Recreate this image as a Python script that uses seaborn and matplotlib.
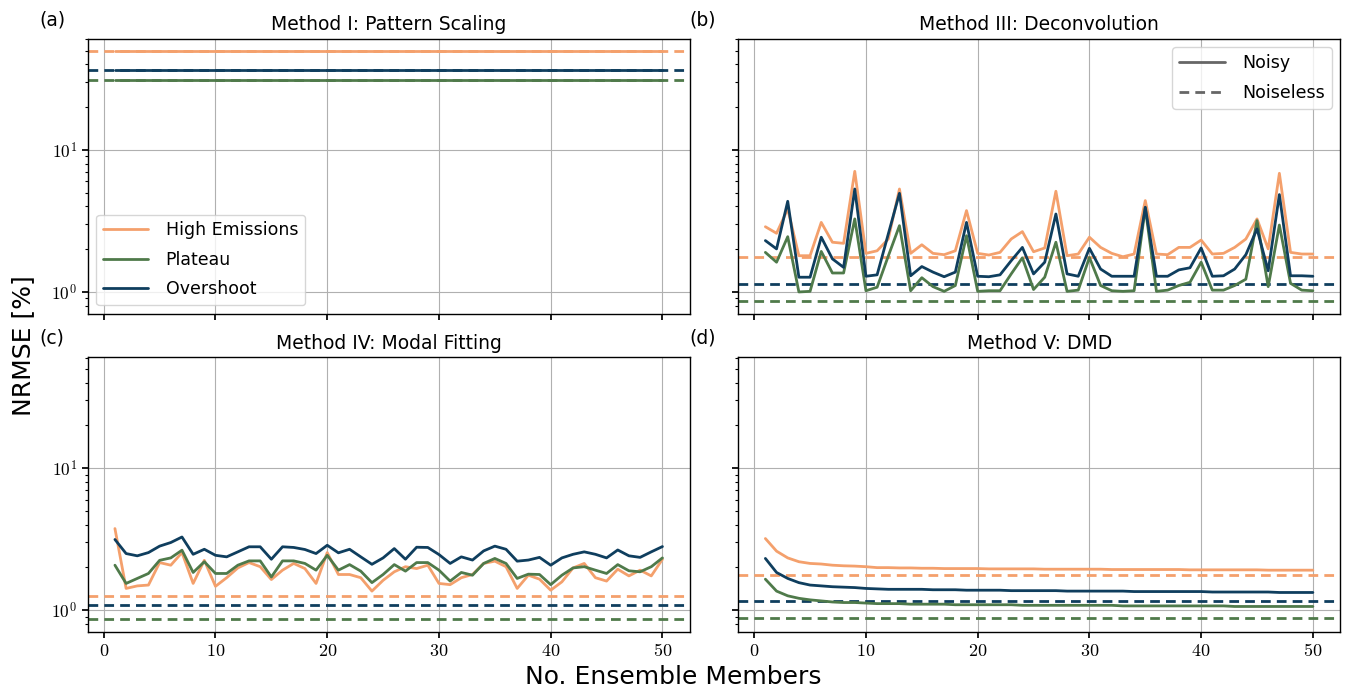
import numpy as np
import matplotlib
matplotlib.use("Agg")
import matplotlib.pyplot as plt
from matplotlib.lines import Line2D
from matplotlib.ticker import FuncFormatter
import seaborn as sns

# Datos (NRMSE en %)
miembros = list(range(1, 51))
escenarios = ["High Emissions", "Plateau", "Overshoot"]
colores = {"High Emissions": "#f4a06c", "Plateau": "#4f7a4a", "Overshoot": "#0f3e5e"}

# Method I: Pattern Scaling (no depende del numero de miembros)
m1_high = [49.9, 49.9, 49.9, 49.9, 49.9, 49.9, 49.9, 49.9, 49.9, 49.9,
           49.9, 49.9, 49.9, 49.9, 49.9, 49.9, 49.9, 49.9, 49.9, 49.9,
           49.9, 49.9, 49.9, 49.9, 49.9, 49.9, 49.9, 49.9, 49.9, 49.9,
           49.9, 49.9, 49.9, 49.9, 49.9, 49.9, 49.9, 49.9, 49.9, 49.9,
           49.9, 49.9, 49.9, 49.9, 49.9, 49.9, 49.9, 49.9, 49.9, 49.9]
m1_plateau = [30.9, 30.9, 30.9, 30.9, 30.9, 30.9, 30.9, 30.9, 30.9, 30.9,
              30.9, 30.9, 30.9, 30.9, 30.9, 30.9, 30.9, 30.9, 30.9, 30.9,
              30.9, 30.9, 30.9, 30.9, 30.9, 30.9, 30.9, 30.9, 30.9, 30.9,
              30.9, 30.9, 30.9, 30.9, 30.9, 30.9, 30.9, 30.9, 30.9, 30.9,
              30.9, 30.9, 30.9, 30.9, 30.9, 30.9, 30.9, 30.9, 30.9, 30.9]
m1_overshoot = [36.8, 36.8, 36.8, 36.8, 36.8, 36.8, 36.8, 36.8, 36.8, 36.8,
                36.8, 36.8, 36.8, 36.8, 36.8, 36.8, 36.8, 36.8, 36.8, 36.8,
                36.8, 36.8, 36.8, 36.8, 36.8, 36.8, 36.8, 36.8, 36.8, 36.8,
                36.8, 36.8, 36.8, 36.8, 36.8, 36.8, 36.8, 36.8, 36.8, 36.8,
                36.8, 36.8, 36.8, 36.8, 36.8, 36.8, 36.8, 36.8, 36.8, 36.8]
m1_noiseless = [49.9, 30.9, 36.8]

# Method III: Deconvolution
m3_high = [2.88, 2.59, 3.84, 1.80, 1.80, 3.09, 2.24, 2.20, 7.07, 1.87,
           1.95, 2.36, 5.31, 1.87, 2.15, 1.87, 1.83, 1.95, 3.74, 1.87,
           1.82, 1.90, 2.36, 2.66, 1.92, 2.04, 5.12, 1.80, 1.85, 2.43,
           2.06, 1.87, 1.77, 1.85, 4.40, 1.85, 1.83, 2.06, 2.06, 2.32,
           1.85, 1.87, 2.06, 2.36, 3.27, 2.01, 6.85, 1.90, 1.85, 1.85]
m3_plateau = [1.90, 1.62, 2.45, 1.00, 1.01, 1.93, 1.36, 1.36, 3.27, 1.02,
              1.08, 1.79, 2.93, 1.02, 1.26, 1.09, 1.01, 1.11, 2.49, 1.01,
              1.02, 1.02, 1.34, 1.74, 1.04, 1.27, 2.24, 1.01, 1.03, 1.75,
              1.11, 1.02, 1.01, 1.02, 3.91, 1.01, 1.03, 1.11, 1.17, 1.62,
              1.03, 1.03, 1.11, 1.23, 3.18, 1.09, 2.96, 1.15, 1.03, 1.02]
m3_overshoot = [2.30, 2.01, 4.35, 1.27, 1.27, 2.43, 1.71, 1.49, 5.31, 1.29,
                1.32, 2.56, 4.95, 1.30, 1.51, 1.38, 1.28, 1.38, 3.09, 1.29,
                1.28, 1.32, 1.66, 2.06, 1.34, 1.62, 3.54, 1.34, 1.29, 2.03,
                1.45, 1.29, 1.29, 1.29, 3.95, 1.29, 1.29, 1.43, 1.48, 2.04,
                1.29, 1.30, 1.45, 1.83, 2.78, 1.41, 4.85, 1.30, 1.30, 1.29]
m3_noiseless = [1.75, 0.865, 1.14]

# Method IV: Modal Fitting
m4_high = [3.75, 1.42, 1.48, 1.50, 2.16, 2.07, 2.54, 1.54, 2.24, 1.47,
           1.69, 1.98, 2.16, 2.02, 1.64, 1.91, 2.13, 1.96, 1.54, 2.54,
           1.78, 1.78, 1.69, 1.36, 1.62, 1.86, 2.02, 1.96, 2.07, 1.54,
           1.51, 1.69, 1.78, 2.13, 2.21, 2.02, 1.42, 1.76, 1.65, 1.38,
           1.58, 1.98, 2.13, 1.69, 1.60, 1.94, 1.74, 1.91, 1.74, 2.28]
m4_plateau = [2.07, 1.54, 1.67, 1.81, 2.24, 2.33, 2.64, 1.84, 2.19, 1.81,
              1.81, 2.07, 2.22, 2.22, 1.71, 2.22, 2.22, 2.13, 1.91, 2.43,
              1.91, 2.09, 1.88, 1.56, 1.78, 2.09, 1.88, 2.16, 2.16, 1.91,
              1.60, 1.84, 1.76, 2.13, 2.31, 2.13, 1.67, 1.79, 1.78, 1.51,
              1.76, 1.98, 2.02, 1.91, 1.81, 2.09, 1.89, 1.86, 2.02, 2.33]
m4_overshoot = [3.14, 2.50, 2.41, 2.54, 2.82, 2.99, 3.27, 2.47, 2.68, 2.43,
                2.37, 2.57, 2.79, 2.79, 2.28, 2.79, 2.76, 2.67, 2.50, 2.86,
                2.53, 2.68, 2.37, 2.10, 2.33, 2.71, 2.28, 2.77, 2.76, 2.46,
                2.13, 2.37, 2.25, 2.61, 2.82, 2.68, 2.21, 2.25, 2.35, 2.07,
                2.33, 2.47, 2.57, 2.47, 2.33, 2.65, 2.41, 2.35, 2.57, 2.80]
m4_noiseless = [1.25, 0.865, 1.08]

# Method V: DMD
m5_high = [3.19, 2.60, 2.33, 2.19, 2.13, 2.11, 2.07, 2.05, 2.04, 2.02,
           1.99, 1.99, 1.98, 1.98, 1.97, 1.97, 1.96, 1.96, 1.96, 1.96,
           1.95, 1.95, 1.95, 1.95, 1.95, 1.94, 1.94, 1.94, 1.94, 1.94,
           1.94, 1.93, 1.93, 1.93, 1.93, 1.93, 1.93, 1.93, 1.92, 1.92,
           1.92, 1.92, 1.92, 1.92, 1.92, 1.91, 1.91, 1.91, 1.91, 1.91]
m5_plateau = [1.65, 1.36, 1.26, 1.21, 1.18, 1.16, 1.14, 1.13, 1.13, 1.12,
              1.11, 1.11, 1.11, 1.10, 1.10, 1.10, 1.10, 1.09, 1.09, 1.09,
              1.09, 1.09, 1.09, 1.08, 1.08, 1.08, 1.08, 1.08, 1.08, 1.08,
              1.08, 1.08, 1.07, 1.07, 1.07, 1.07, 1.07, 1.07, 1.07, 1.07,
              1.07, 1.07, 1.06, 1.06, 1.06, 1.06, 1.06, 1.06, 1.06, 1.06]
m5_overshoot = [2.31, 1.84, 1.67, 1.56, 1.50, 1.48, 1.46, 1.45, 1.44, 1.42,
                1.41, 1.40, 1.40, 1.40, 1.40, 1.39, 1.39, 1.39, 1.38, 1.38,
                1.38, 1.38, 1.37, 1.37, 1.37, 1.37, 1.37, 1.36, 1.36, 1.36,
                1.36, 1.36, 1.36, 1.35, 1.35, 1.35, 1.35, 1.35, 1.35, 1.35,
                1.34, 1.34, 1.34, 1.34, 1.34, 1.34, 1.33, 1.33, 1.33, 1.33]
m5_noiseless = [1.78, 0.88, 1.157]

paneles = [
    ("(a)", "Method I: Pattern Scaling", [m1_high, m1_plateau, m1_overshoot], m1_noiseless),
    ("(b)", "Method III: Deconvolution", [m3_high, m3_plateau, m3_overshoot], m3_noiseless),
    ("(c)", "Method IV: Modal Fitting", [m4_high, m4_plateau, m4_overshoot], m4_noiseless),
    ("(d)", "Method V: DMD", [m5_high, m5_plateau, m5_overshoot], m5_noiseless),
]

sns.set_theme(style="whitegrid", rc={
    "axes.edgecolor": "black",
    "axes.linewidth": 1.0,
    "grid.color": "#b0b0b0",
    "grid.linewidth": 0.8,
    "xtick.bottom": True,
    "ytick.left": True,
    "xtick.color": "black",
    "ytick.color": "black",
    "text.color": "black",
    "axes.labelcolor": "black",
    "xtick.major.size": 4,
    "ytick.major.size": 4,
    "ytick.minor.size": 2.5,
    "ytick.minor.width": 0.8,
})
plt.rcParams["font.family"] = ["DejaVu Sans"]
plt.rcParams["mathtext.fontset"] = "cm"

fig, ejes = plt.subplots(2, 2, figsize=(13.47, 6.92), dpi=100, sharex=True, sharey=True)
fig.subplots_adjust(left=0.065, right=0.995, top=0.944, bottom=0.087, wspace=0.08, hspace=0.157)

for ax, (etiqueta, titulo, series, sin_ruido) in zip(ejes.flat, paneles):
    for nombre, valores, ref in zip(escenarios, series, sin_ruido):
        ax.axhline(ref, color=colores[nombre], ls="--", lw=2.0, dashes=(3.5, 2.2), zorder=2)
        sns.lineplot(x=miembros, y=valores, ax=ax, color=colores[nombre], lw=2.0,
                     label=nombre, legend=False, zorder=3)
    ax.set_yscale("log")
    ax.set_title(titulo, fontsize=13.5)
    ax.text(-0.08, 1.035, etiqueta, transform=ax.transAxes, fontsize=13.5, ha="left", va="bottom")
    ax.grid(True, which="major")
    ax.grid(False, which="minor")
    ax.tick_params(axis="both", labelsize=12.5)

ejes[0, 0].set_ylim(0.703, 60.7)
ejes[0, 0].xaxis.set_major_formatter(FuncFormatter(lambda v, p: rf"${v:g}$"))
ejes[0, 0].yaxis.set_major_formatter(
    FuncFormatter(lambda v, p: rf"$10^{{{int(round(np.log10(v)))}}}$"))
for ax in ejes[1]:
    ax.tick_params(axis="x", labelsize=13)

# Leyendas
ejes[0, 0].legend(loc="lower left", fontsize=12.5, framealpha=0.8, handlelength=2.6,
                  handletextpad=1.0, labelspacing=0.65)
manejadores = [Line2D([], [], color="#666666", lw=2, ls="-"),
               Line2D([], [], color="#666666", lw=2, ls="--", dashes=(3.5, 2.2))]
ejes[0, 1].legend(manejadores, ["Noisy", "Noiseless"], loc="upper right", fontsize=12.5,
                  framealpha=0.8, handlelength=2.6, handletextpad=1.0, labelspacing=0.65)

fig.supxlabel("No. Ensemble Members", fontsize=18, y=0.005)
fig.supylabel("NRMSE [%]", fontsize=18, x=0.008)

fig.savefig("out.png", dpi=100)
